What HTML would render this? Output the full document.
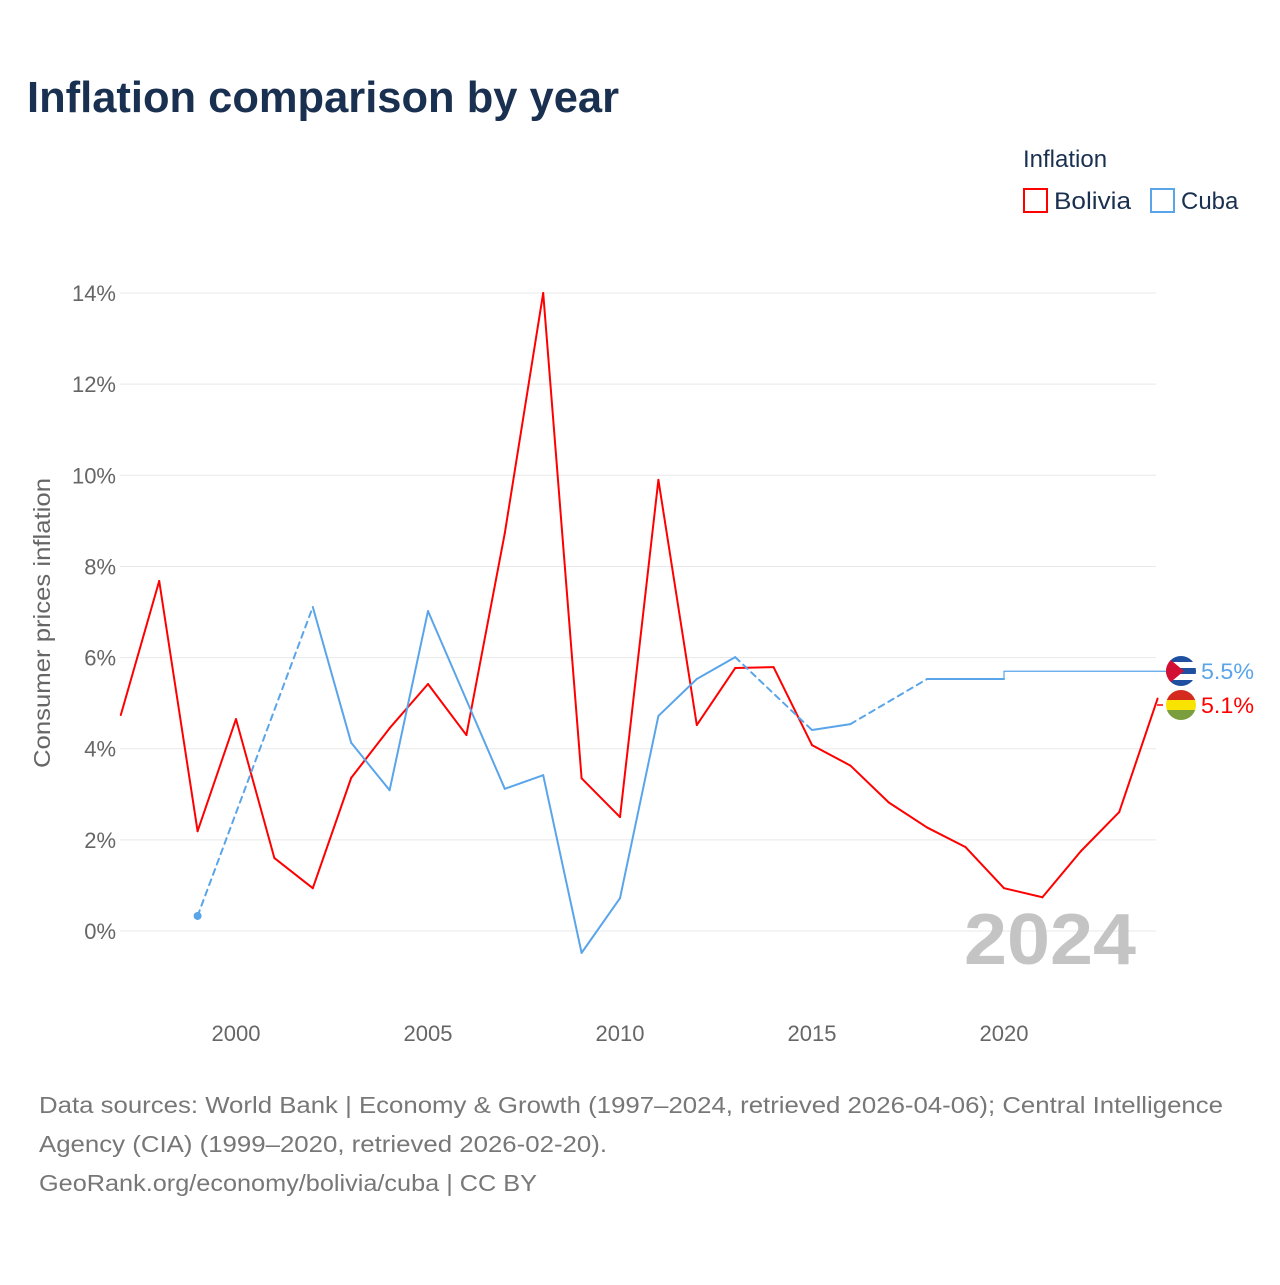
<!DOCTYPE html>
<html><head><meta charset="utf-8"><style>
body{margin:0;background:#fff;font-family:"Liberation Sans",sans-serif;}
svg text{font-family:"Liberation Sans",sans-serif;}
</style></head><body>
<svg width="1280" height="1280" viewBox="0 0 1280 1280" xmlns="http://www.w3.org/2000/svg">
<text x="27" y="112" font-size="44" font-weight="bold" fill="#1a3050" textLength="592" lengthAdjust="spacingAndGlyphs">Inflation comparison by year</text>
<g>
<text x="1023" y="167" font-size="24" fill="#1a3050">Inflation</text>
<g><rect x="1024" y="189" width="23" height="23" fill="none" stroke="#ff0000" stroke-width="2"/><text x="1054" y="209" font-size="24" fill="#1a3050" textLength="77" lengthAdjust="spacingAndGlyphs">Bolivia</text></g>
<g><rect x="1151" y="189" width="23" height="23" fill="none" stroke="#5aa5ea" stroke-width="2"/><text x="1181" y="209" font-size="24" fill="#1a3050">Cuba</text></g>
</g>
<g id="grid"></g>
<g id="yticks"></g>
<g id="xticks"></g>
<text transform="translate(50,623) rotate(-90)" text-anchor="middle" font-size="23" fill="#666" textLength="290" lengthAdjust="spacingAndGlyphs">Consumer prices inflation</text>
<text x="1136" y="964" text-anchor="end" font-size="72" font-weight="bold" fill="#c4c4c4" textLength="172" lengthAdjust="spacingAndGlyphs">2024</text>
<g id="series"></g>
<g>
<defs><clipPath id="cc"><circle cx="1181" cy="671" r="15"/></clipPath><clipPath id="bc"><circle cx="1181" cy="705" r="15"/></clipPath></defs>
<line x1="1157" y1="705" x2="1163" y2="705" stroke="#ff0000" stroke-width="1.5"/>
<g clip-path="url(#cc)"><rect x="1166" y="656" width="30" height="30" fill="#fff"/><rect x="1166" y="656" width="30" height="6" fill="#1f4fa0"/><rect x="1166" y="668" width="30" height="6" fill="#1f4fa0"/><rect x="1166" y="680" width="30" height="6" fill="#1f4fa0"/><polygon points="1166,656 1184,671 1166,686" fill="#d21034"/></g>
<g clip-path="url(#bc)"><rect x="1166" y="690" width="30" height="10" fill="#d52b1e"/><rect x="1166" y="700" width="30" height="10" fill="#f9e300"/><rect x="1166" y="710" width="30" height="10" fill="#7a9e3e"/></g>
<text x="1201" y="679" font-size="22" fill="#5aa5ea" textLength="53" lengthAdjust="spacingAndGlyphs">5.5%</text>
<text x="1201" y="713" font-size="22" fill="#ff0000" textLength="53" lengthAdjust="spacingAndGlyphs">5.1%</text>
</g>
<g font-size="23" fill="#777">
<text x="39" y="1113" textLength="1184" lengthAdjust="spacingAndGlyphs">Data sources: World Bank | Economy &amp; Growth (1997–2024, retrieved 2026-04-06); Central Intelligence</text>
<text x="39" y="1152" textLength="568" lengthAdjust="spacingAndGlyphs">Agency (CIA) (1999–2020, retrieved 2026-02-20).</text>
<text x="39" y="1191" textLength="498" lengthAdjust="spacingAndGlyphs">GeoRank.org/economy/bolivia/cuba | CC BY</text>
</g>
</svg>
<script>
const years = [1997,1998,1999,2000,2001,2002,2003,2004,2005,2006,2007,2008,2009,2010,2011,2012,2013,2014,2015,2016,2017,2018,2019,2020,2021,2022,2023,2024];
const bolivia = [4.74,7.68,2.19,4.65,1.60,0.94,3.36,4.45,5.42,4.30,8.73,14.0,3.35,2.50,9.9,4.52,5.77,5.79,4.08,3.63,2.82,2.27,1.84,0.94,0.74,1.75,2.61,5.1];
const cuba = [null,null,0.33,null,null,7.11,4.13,3.09,7.02,5.07,3.12,3.42,-0.48,0.72,4.72,5.53,6.01,null,4.41,4.54,null,5.53,5.53,5.53,null,null,null,null];
const cubaLatest = 5.7;
const yTicks = [0,2,4,6,8,10,12,14];
const xTicks = [2000,2005,2010,2015,2020];
const NS="http://www.w3.org/2000/svg";
const X=y=>120.8+(y-1997)*38.4;
const Y=v=>931-v*45.57;
function mk(t,a,p){const e=document.createElementNS(NS,t);for(const k in a)e.setAttribute(k,a[k]);p.appendChild(e);return e;}
const grid=document.getElementById('grid'),yt=document.getElementById('yticks'),xt=document.getElementById('xticks'),ser=document.getElementById('series');
yTicks.forEach(v=>{
 const l=mk('line',{x1:120,x2:1156,y1:Y(v),y2:Y(v),stroke:'#e8e8e8','stroke-width':1},grid);
 
 
 const t=mk('text',{x:116,y:Y(v)+8,'text-anchor':'end','font-size':22,fill:'#666'},yt);
 t.textContent=v+'%';
 
 
});
xTicks.forEach(y=>{
 const t=mk('text',{x:X(y),y:1041,'text-anchor':'middle','font-size':22,fill:'#666'},xt);
 t.textContent=y;
 
 
});
function draw(vals,color,name){
 let pts=[];vals.forEach((v,i)=>{if(v!==null)pts.push([X(years[i]),Y(v),i]);});
 for(let k=1;k<pts.length;k++){
  const a=pts[k-1],b=pts[k];
  const l=mk('line',{x1:a[0],y1:a[1],x2:b[0],y2:b[1],stroke:color,'stroke-width':2,'stroke-linecap':'round'},ser);
  if(b[2]-a[2]>1)l.setAttribute('stroke-dasharray','6 5');
  
  
 }
 return pts;
}
draw(bolivia,'#ff0000','bolivia-line');
const cp=draw(cuba,'#5aa5ea','cuba-line');
const d=mk('circle',{cx:cp[0][0],cy:cp[0][1],r:4,fill:'#5aa5ea'},ser);


const last=cp[cp.length-1];
const st=mk('polyline',{points:`${last[0]},${last[1]} ${last[0]},${Y(cubaLatest)} ${X(2024)},${Y(cubaLatest)} 1166,${Y(cubaLatest)}`,fill:'none',stroke:'#5aa5ea','stroke-width':1.2},ser);


</script>
</body></html>
